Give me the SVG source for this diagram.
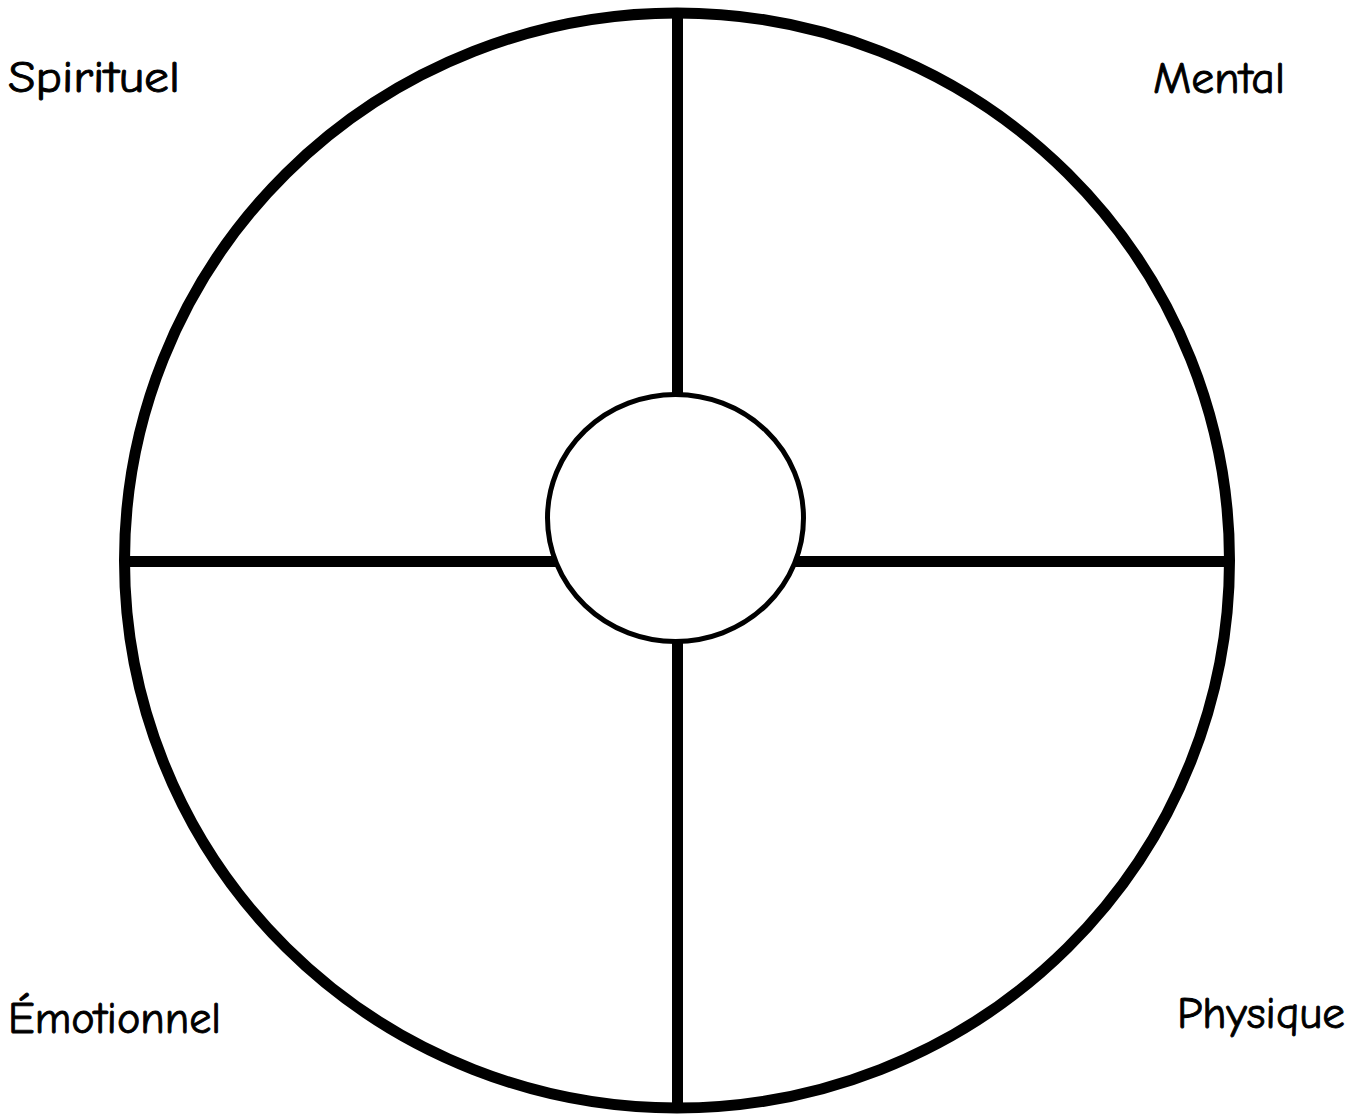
<svg xmlns="http://www.w3.org/2000/svg" width="1365" height="1115" viewBox="0 0 1365 1115">
<style>
.lbl{font-family:"Comic Sans MS","Comic Neue","Open Sans","DejaVu Sans",sans-serif;font-size:44px;fill:#000;stroke:#000;stroke-width:0.9}
.ln{stroke:#000;stroke-width:11;fill:none}
</style>
<rect width="1365" height="1115" fill="#fff"/>
<g id="outer"><ellipse cx="677" cy="560.5" rx="552.5" ry="547.5" fill="#fff" stroke="#000" stroke-width="11"/></g>
<g id="connectors">
<line class="ln" x1="677.5" y1="13" x2="677.5" y2="394"/>
<line class="ln" x1="677.5" y1="642" x2="677.5" y2="1108"/>
<line class="ln" x1="124.5" y1="561.5" x2="556" y2="561.5"/>
<line class="ln" x1="794" y1="561.5" x2="1229.5" y2="561.5"/>
</g>
<g id="center"><ellipse cx="675.5" cy="518" rx="128" ry="123.5" fill="#fff" stroke="#000" stroke-width="5"/></g>
<g id="spirituel"><text class="lbl" x="8" y="92" textLength="172" lengthAdjust="spacingAndGlyphs">Spirituel</text></g>
<g id="mental"><text class="lbl" x="1153" y="93" textLength="132" lengthAdjust="spacingAndGlyphs">Mental</text></g>
<g id="emotionnel"><text class="lbl" x="8" y="1033" textLength="213" lengthAdjust="spacingAndGlyphs">Émotionnel</text></g>
<g id="physique"><text class="lbl" x="1177" y="1028" textLength="168" lengthAdjust="spacingAndGlyphs">Physique</text></g>
</svg>
